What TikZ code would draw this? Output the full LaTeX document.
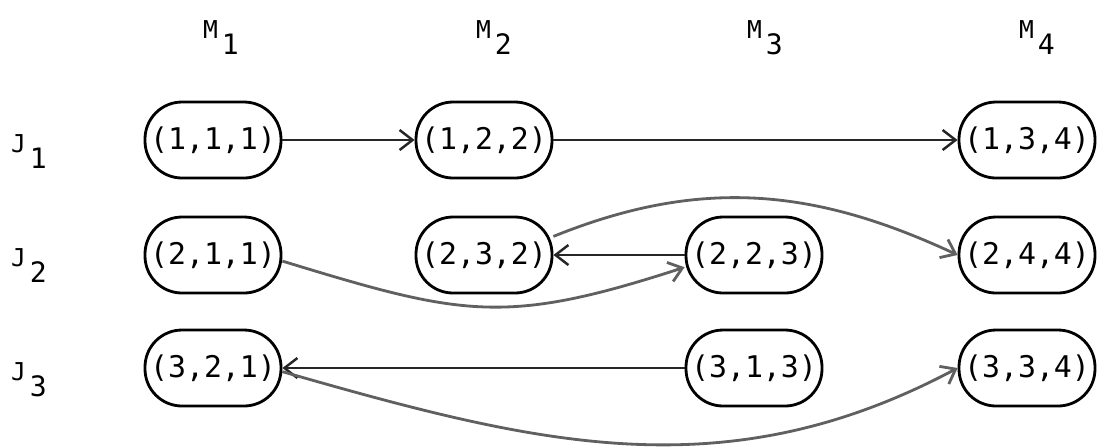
\documentclass[tikz,border=0pt]{standalone}
\usepackage{fontspec}
\setmonofont{DejaVu Sans Mono}
\usetikzlibrary{arrows.meta}
% label with lowered index
\newcommand{\lab}[2]{{\fontsize{7}{8}\selectfont #1}\hspace{0.4mm}\raisebox{-1.6mm}{\fontsize{8}{9}\selectfont #2}}

\begin{document}
\begin{tikzpicture}[>={Straight Barb[length=1.3mm,width=2mm]},
    font=\ttfamily\fontsize{8.5}{10}\selectfont,
    op/.style={draw, line width=0.8pt, rounded corners=3.7mm, minimum width=1.36cm, minimum height=0.76cm, inner sep=0pt},
    hd/.style={inner sep=0pt},
    seq/.style={->, line width=0.7pt, black!85},
    link/.style={->, line width=0.8pt, gray!75!black}]
    \useasboundingbox (0,0) rectangle (11,4.46);

    \node[hd] (M1) at (2.21,4.08) {\lab{M}{1}};
    \node[hd] (M2) at (4.94,4.08) {\lab{M}{2}};
    \node[hd] (M3) at (7.65,4.08) {\lab{M}{3}};
    \node[hd] (M4) at (10.37,4.08) {\lab{M}{4}};
    \node[hd] (J1) at (0.29,2.94) {\lab{J}{1}};
    \node[hd] (J2) at (0.29,1.80) {\lab{J}{2}};
    \node[hd] (J3) at (0.29,0.66) {\lab{J}{3}};

    \node[op] (J1M1) at (2.13,3.06) {(1,1,1)};
    \node[op] (J1M2) at (4.84,3.06) {(1,2,2)};
    \node[op] (J1M4) at (10.27,3.06) {(1,3,4)};
    \node[op] (J2M1) at (2.13,1.91) {(2,1,1)};
    \node[op] (J2M2) at (4.84,1.91) {(2,3,2)};
    \node[op] (J2M3) at (7.54,1.91) {(2,2,3)};
    \node[op] (J2M4) at (10.27,1.91) {(2,4,4)};
    \node[op] (J3M1) at (2.13,0.78) {(3,2,1)};
    \node[op] (J3M3) at (7.54,0.78) {(3,1,3)};
    \node[op] (J3M4) at (10.27,0.78) {(3,3,4)};

    \draw[seq] (J1M1) -- (J1M2);
    \draw[seq] (J1M2) -- (J1M4);
    \draw[seq] (J2M3) -- (J2M2);
    \draw[seq] (J3M3) -- (J3M1);

    \draw[link] (J2M2.15) to[out=22,in=155] (J2M4.west);
    \draw[link] (J2M1.-5) to[out=-17,in=198,looseness=1.2] (J2M3.190);
    \draw[link] (J3M1.-3) to[out=-16,in=208] (J3M4.west);
\end{tikzpicture}
\end{document}
